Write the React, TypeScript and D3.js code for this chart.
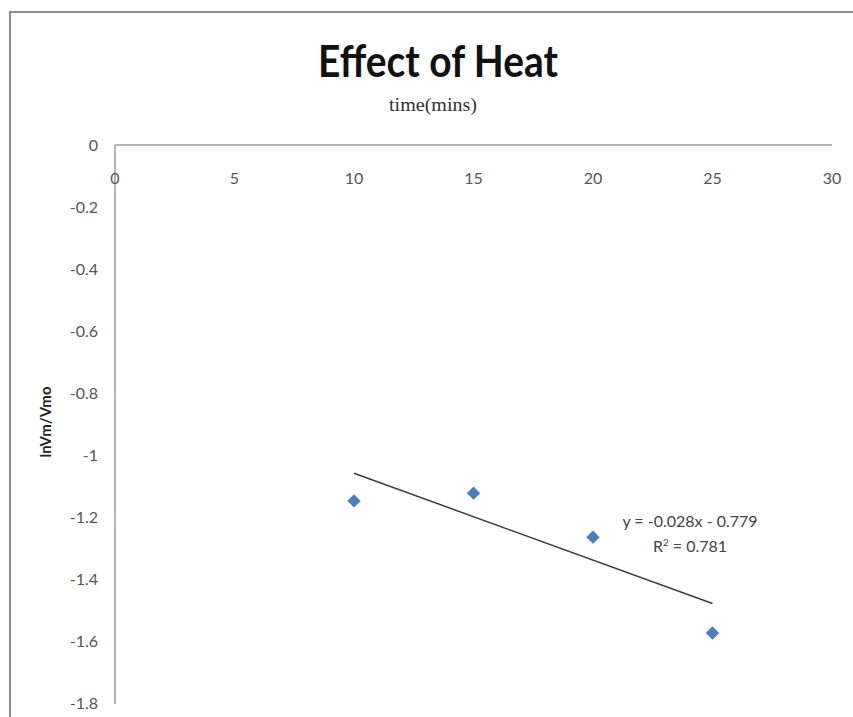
import React from "react";
import * as d3 from "d3";

const times = [10, 15, 20, 25];
const lnRatio = [-1.148, -1.123, -1.265, -1.574];
const xTicks = [0, 5, 10, 15, 20, 25, 30];
const yTicks = [0, -0.2, -0.4, -0.6, -0.8, -1, -1.2, -1.4, -1.6, -1.8];
const trendSlope = -0.028;
const trendIntercept = -0.779;
const trendRange = [10, 25];
const titleText = "Effect of Heat";
const xTitle = "time(mins)";
const yTitle = "lnVm/Vmo";
const eqText = "y = -0.028x - 0.779";
const r2Value = "0.781";

const W = 853;
const H = 717;

export default function App() {
  const x = d3.scaleLinear().domain([0, 30]).range([115, 832]);
  const y = d3.scaleLinear().domain([0, -1.8]).range([145, 703]);
  const line = d3
    .line<number>()
    .x((d) => x(d))
    .y((d) => y(trendSlope * d + trendIntercept));
  const diamond = d3.symbol().type(d3.symbolDiamond2 ?? d3.symbolDiamond).size(115)();
  const tickFont = "Lato, 'Open Sans', sans-serif";
  const fmt = (t: number) => String(t);
  return (
    <svg
      width={W}
      height={H}
      style={{ position: "absolute", left: 0, top: 0, background: "#fff" }}
    >
      <rect x={0} y={0} width={W} height={H} fill="#fff" />
      <path d={`M10,${H} L10,12 L${W},12`} fill="none" stroke="#8c8c8c" strokeWidth={2} />
      <text
        x={438}
        y={77}
        textAnchor="middle"
        fontFamily="Lato, 'Open Sans', sans-serif"
        fontWeight={700}
        fontSize={44}
        textLength={240}
        lengthAdjust="spacingAndGlyphs"
        fill="#111"
      >
        {titleText}
      </text>
      <text
        x={433}
        y={111}
        textAnchor="middle"
        fontFamily="'Liberation Serif', 'DejaVu Serif', serif"
        fontSize={19}
        textLength={88}
        lengthAdjust="spacingAndGlyphs"
        fill="#333"
      >
        {xTitle}
      </text>
      <text
        transform={`translate(51,422) rotate(-90)`}
        textAnchor="middle"
        fontFamily={tickFont}
        fontWeight={700}
        fontSize={15}
        fill="#222"
      >
        {yTitle}
      </text>
      <line x1={x(0)} x2={x(30)} y1={y(0)} y2={y(0)} stroke="#b4b4b4" strokeWidth={2} />
      <line x1={x(0)} x2={x(0)} y1={y(0)} y2={y(-1.8) + 1} stroke="#b4b4b4" strokeWidth={2} />
      {xTicks.map((t) => (
        <text
          key={"x" + t}
          x={x(t)}
          y={184}
          textAnchor="middle"
          fontFamily={tickFont}
          fontSize={16}
          fill="#555"
        >
          {fmt(t)}
        </text>
      ))}
      {yTicks.map((t) => (
        <text
          key={"y" + t}
          x={98}
          y={y(t) + 6}
          textAnchor="end"
          fontFamily={tickFont}
          fontSize={16}
          fill="#555"
        >
          {fmt(t)}
        </text>
      ))}
      <path d={line(trendRange) || ""} fill="none" stroke="#3c3c3c" strokeWidth={1.5} />
      {times.map((t, i) => (
        <path
          key={"p" + i}
          d={diamond || ""}
          transform={`translate(${x(t)},${y(lnRatio[i])})`}
          fill="#4a7ebb"
        />
      ))}
      <text
        x={690}
        y={527}
        textAnchor="middle"
        fontFamily={tickFont}
        fontSize={16}
        fill="#444"
      >
        {eqText}
      </text>
      <text
        x={690}
        y={552}
        textAnchor="middle"
        fontFamily={tickFont}
        fontSize={16}
        fill="#444"
      >
        R<tspan dy={-6} fontSize={10}>2</tspan>
        <tspan dy={6}>{" = " + r2Value}</tspan>
      </text>
    </svg>
  );
}
